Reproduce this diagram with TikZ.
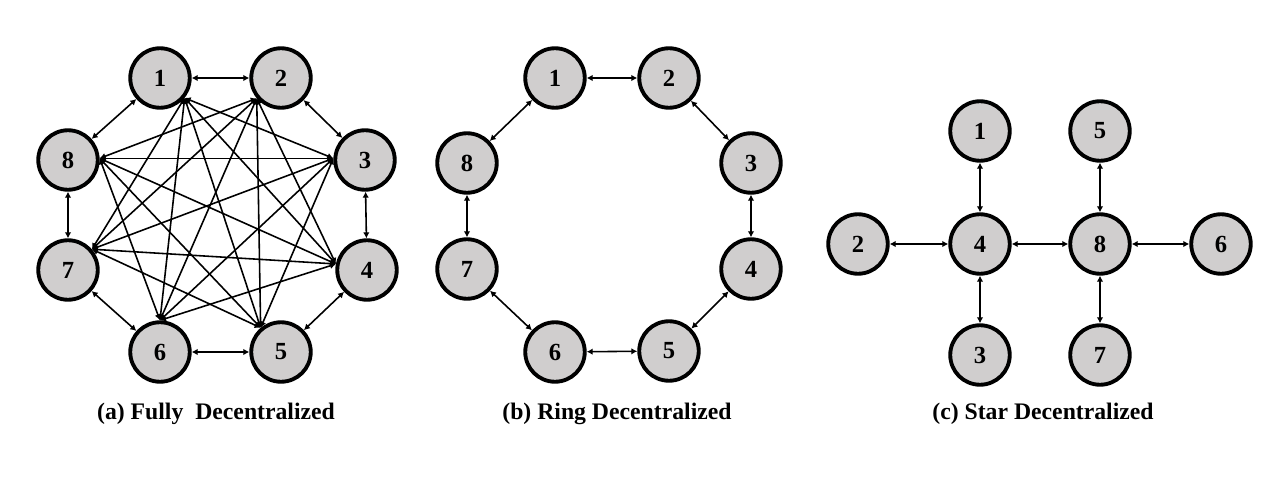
\documentclass[tikz,border=0pt]{standalone}
\usepackage{fontspec}
\setmainfont{Liberation Serif}
\usetikzlibrary{arrows.meta}
\definecolor{nodegray}{RGB}{208,206,206}
\tikzset{
  peer/.style={circle,draw,line width=2.2pt,fill=nodegray,minimum size=1.19cm,inner sep=0pt,
    font=\fontsize{14}{16}\selectfont\bfseries},
  link/.style={{Latex[length=1.2mm,width=1.3mm]}-{Latex[length=1.2mm,width=1.3mm]},line width=0.9pt},
  caption/.style={font=\fontsize{13.5}{16}\selectfont\bfseries}
}

\begin{document}
\begin{tikzpicture}[x=0.02cm,y=-0.02cm]
  \useasboundingbox (0,0) rectangle (1286,480);

  % (a) fully decentralized
  \node[peer] (a1) at (160,78) {1};
  \node[peer] (a2) at (281,78) {2};
  \node[peer] (a3) at (365,160) {3};
  \node[peer] (a4) at (367,270) {4};
  \node[peer] (a5) at (281,352) {5};
  \node[peer] (a6) at (160,352) {6};
  \node[peer] (a7) at (68,270) {7};
  \node[peer] (a8) at (68,160) {8};

  \draw[link] (a1) -- (a2);
  \draw[link] (a2) -- (a3);
  \draw[link] (a3) -- (a4);
  \draw[link] (a4) -- (a5);
  \draw[link] (a5) -- (a6);
  \draw[link] (a6) -- (a7);
  \draw[link] (a7) -- (a8);
  \draw[link] (a8) -- (a1);

  \coordinate (p1) at (a1.-39);
  \coordinate (p2) at (a2.-140);
  \coordinate (p3) at (a3.177);
  \coordinate (p4) at (a4.169);
  \coordinate (p5) at (a5.130);
  \coordinate (p6) at (a6.90);
  \coordinate (p7) at (a7.41);
  \coordinate (p8) at (a8.3);

  \draw[link] (p1) -- (p3);
  \draw[link] (p1) -- (p4);
  \draw[link] (p1) -- (p5);
  \draw[link] (p1) -- (p6);
  \draw[link] (p1) -- (p7);
  \draw[link] (p2) -- (p4);
  \draw[link] (p2) -- (p5);
  \draw[link] (p2) -- (p6);
  \draw[link] (p2) -- (p7);
  \draw[link] (p2) -- (p8);
  \draw[link] (p3) -- (p5);
  \draw[link] (p3) -- (p6);
  \draw[link] (p3) -- (p7);
  \draw[link] (p3) -- (p8);
  \draw[link] (p4) -- (p6);
  \draw[link] (p4) -- (p7);
  \draw[link] (p4) -- (p8);
  \draw[link] (p5) -- (p7);
  \draw[link] (p5) -- (p8);
  \draw[link] (p6) -- (p8);

  \node[caption] (capa) at (216,414) {(a) Fully\ \ Decentralized};

  % (b) ring decentralized
  \node[peer] (b1) at (555,78) {1};
  \node[peer] (b2) at (669,78) {2};
  \node[peer] (b3) at (751,163) {3};
  \node[peer] (b4) at (751,269) {4};
  \node[peer] (b5) at (669,351) {5};
  \node[peer] (b6) at (555,352) {6};
  \node[peer] (b7) at (467,269) {7};
  \node[peer] (b8) at (467,163) {8};

  \draw[link] (b1) -- (b2);
  \draw[link] (b2) -- (b3);
  \draw[link] (b3) -- (b4);
  \draw[link] (b4) -- (b5);
  \draw[link] (b5) -- (b6);
  \draw[link] (b6) -- (b7);
  \draw[link] (b7) -- (b8);
  \draw[link] (b8) -- (b1);

  \node[caption] (capb) at (617,414) {(b) Ring Decentralized};

  % (c) star decentralized
  \node[peer] (c1) at (980,131) {1};
  \node[peer] (c5) at (1100,131) {5};
  \node[peer] (c2) at (858,244) {2};
  \node[peer] (c4) at (980,244) {4};
  \node[peer] (c8) at (1100,244) {8};
  \node[peer] (c6) at (1221,244) {6};
  \node[peer] (c3) at (980,355) {3};
  \node[peer] (c7) at (1100,355) {7};

  \draw[link] (c1) -- (c4);
  \draw[link] (c2) -- (c4);
  \draw[link] (c3) -- (c4);
  \draw[link] (c4) -- (c8);
  \draw[link] (c5) -- (c8);
  \draw[link] (c6) -- (c8);
  \draw[link] (c7) -- (c8);

  \node[caption] (capc) at (1043,414) {(c) Star Decentralized};
\end{tikzpicture}
\end{document}
